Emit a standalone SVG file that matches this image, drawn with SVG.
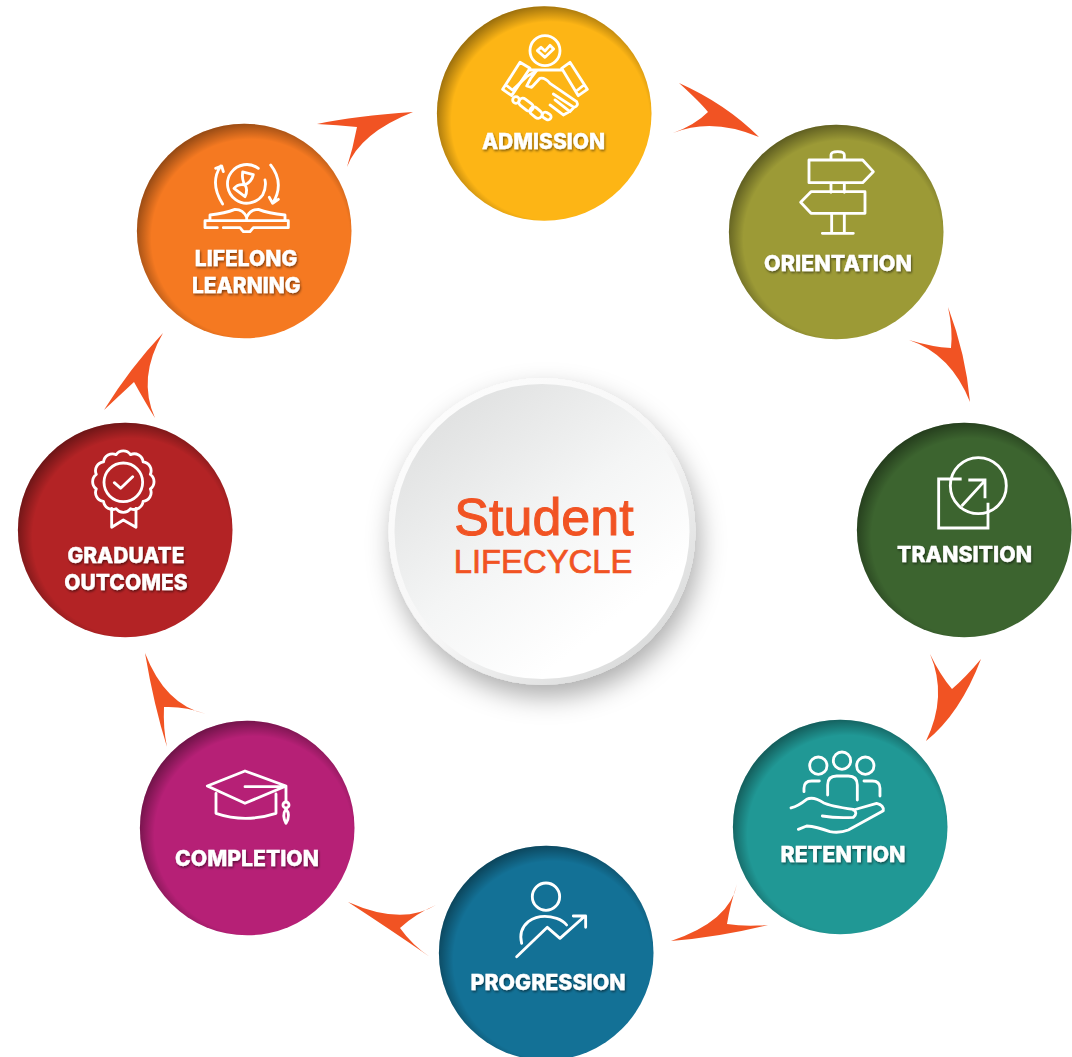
<svg xmlns="http://www.w3.org/2000/svg" width="1072" height="1057" viewBox="0 0 1072 1057">
<style>
.lb{font-family:Inter,"Liberation Sans",sans-serif;font-weight:800;font-size:21px;fill:#fff;stroke:#fff;stroke-width:0.3;text-anchor:middle;filter:url(#ts)}
.ic{fill:none;stroke:#fff;stroke-width:8.5;stroke-linecap:round;stroke-linejoin:round}
.sh{fill:url(#edge)}
.ar{fill:#f15323}
.ct{font-family:"Liberation Sans",Inter,sans-serif;fill:#f15323;text-anchor:middle;stroke:#f15323}
</style>
<defs>
<radialGradient id="edge" cx="0.53" cy="0.535" r="0.55">
<stop offset="0.84" stop-color="#000" stop-opacity="0"/>
<stop offset="1" stop-color="#000" stop-opacity="0.42"/>
</radialGradient>
<linearGradient id="cOut" x1="0.15" y1="0.1" x2="0.85" y2="0.9">
<stop offset="0" stop-color="#fcfcfc"/><stop offset="0.55" stop-color="#f6f6f6"/><stop offset="1" stop-color="#dadbdb"/>
</linearGradient>
<linearGradient id="cIn" x1="0.15" y1="0.1" x2="0.78" y2="0.9">
<stop offset="0" stop-color="#e0e1e1"/><stop offset="0.5" stop-color="#f4f5f5"/><stop offset="0.9" stop-color="#fff"/>
</linearGradient>
<filter id="ts" x="-10%" y="-30%" width="120%" height="170%"><feDropShadow dx="1" dy="1.6" stdDeviation="0.9" flood-color="#000" flood-opacity="0.5"/></filter>
<filter id="cs" x="-25%" y="-25%" width="150%" height="150%"><feDropShadow dx="4" dy="12" stdDeviation="13" flood-color="#000" flood-opacity="0.32"/></filter>
</defs>
<rect width="1072" height="1057" fill="#fff"/>
<g id="connectors">
<path class="ar" d="M679,83Q726,104 759,137Q712,117 673,133Q695,125 708,112Q700,102 679,83Z"/>
<path class="ar" d="M948,307Q966,355 970,402Q951,354 909,340Q932,347 951,348Q953,330 948,307Z"/>
<path class="ar" d="M981,659Q960,714 926,741Q948,696 930,654Q940,675 952,689Q965,678 981,659Z"/>
<path class="ar" d="M768,925Q720,937 671,941Q730,921 737,884Q730,905 727,924Q745,927 768,925Z"/>
<path class="ar" d="M348,902Q402,926 436,905Q415,914 400,928Q412,945 430,957Q391,930 348,902Z"/>
<path class="ar" d="M145,653Q165,705 206,714Q185,706 164,707Q163,728 167,747Q154,706 145,653Z"/>
<path class="ar" d="M163,333Q130,368 104,410Q120,395 134,382Q145,402 155,418Q137,378 163,333Z"/>
<path class="ar" d="M413,112Q355,116 317,124Q337,125 357,127Q353,148 347,167Q360,133 413,112Z"/>
</g>
<g id="center">
<circle cx="542" cy="531.500" r="153.500" fill="url(#cOut)" filter="url(#cs)"/>
<circle cx="542" cy="531.500" r="147.500" fill="url(#cIn)"/>
<text class="ct" x="544" y="534.500" font-size="52" stroke-width="1">Student</text>
<text class="ct" x="543" y="572.500" font-size="32.800" stroke-width="0.7">LIFECYCLE</text>
</g>
<g id="admission">
<circle cx="544.200" cy="113.500" r="107.300" fill="#fdb515"/><circle class="sh" cx="544.200" cy="113.500" r="107.300"/>
<g class="ic" transform="translate(430,0) scale(.3333)">
<circle cx="345" cy="152" r="45"/>
<path d="M322,152L333,142L345,153L360,136L371,147L345,172Z"/>
<path d="M270,187L218,268L245,287L300,205ZM232,258L247,270M420,187L472,268L445,287L395,205ZM458,258L443,270M300,210H395"/>
<path d="M320,212Q300,235 290,258L305,262L330,235Q345,232 360,250L440,305Q447,318 432,322L370,282M432,322L420,335L375,300M415,337L400,345L360,315M250,268L290,230L320,212"/>
<circle cx="258" cy="300" r="10"/>
<rect x="264" y="302" width="48" height="24" rx="12" transform="rotate(38 288 314)"/>
<rect x="298" y="326" width="40" height="24" rx="12" transform="rotate(40 318 338)"/>
<rect x="336" y="339" width="28" height="18" rx="9" transform="rotate(30 350 348)"/>
</g>
<text class="lb" x="543.500" y="148.800">ADMISSION</text>
</g>
<g id="orientation">
<circle cx="836.200" cy="232" r="107.300" fill="#9c9a36"/><circle class="sh" cx="836.200" cy="232" r="107.300"/>
<g class="ic" transform="translate(730,130) scale(.3333)">
<path d="M303,90V75Q303,65 323,65Q343,65 343,75V90M237,90H398L430,125L398,158H237ZM303,158V187M343,158V187M405,185H243L212,217L243,250H405ZM305,250V310M343,250V310M277,310H370"/>
</g>
<text class="lb" x="838" y="270.800" textLength="148" lengthAdjust="spacingAndGlyphs">ORIENTATION</text>
</g>
<g id="transition">
<circle cx="964.200" cy="530" r="107.300" fill="#3c642f"/><circle class="sh" cx="964.200" cy="530" r="107.300"/>
<g class="ic" transform="translate(860,430) scale(.3333)" style="stroke-linecap:butt;stroke-linejoin:miter">
<path d="M305,147H236V294H384V218"/>
<circle cx="355" cy="167" r="84"/>
<path d="M305,228L372,155M325,150H375V205"/>
</g>
<text class="lb" x="964.500" y="561.800" textLength="135" lengthAdjust="spacingAndGlyphs">TRANSITION</text>
</g>
<g id="retention">
<circle cx="840.200" cy="827" r="107.300" fill="#209895"/><circle class="sh" cx="840.200" cy="827" r="107.300"/>
<g class="ic" transform="translate(660,720) scale(.3333)">
<circle cx="475" cy="137" r="26"/><circle cx="546" cy="122" r="26"/><circle cx="616" cy="137" r="26"/>
<path d="M503,225V195Q503,168 530,168H565Q592,168 592,195V240M432,215V205Q432,183 455,183H478M660,228V205Q660,183 637,183H612"/>
<path d="M393,264Q415,258 440,238Q460,228 490,248Q510,258 580,268Q595,280 580,292Q530,295 487,288M580,270L650,250Q672,255 670,272L565,330Q540,340 510,335Q470,320 440,318L415,328"/>
</g>
<text class="lb" x="843" y="862" textLength="125" lengthAdjust="spacingAndGlyphs">RETENTION</text>
</g>
<g id="progression">
<circle cx="546.200" cy="953" r="107.300" fill="#137196"/><circle class="sh" cx="546.200" cy="953" r="107.300"/>
<g class="ic" transform="translate(340,850) scale(.3333)">
<circle cx="618" cy="140" r="41"/>
<path d="M545,280Q535,240 565,215Q600,190 650,205Q670,212 680,225M530,320L622,232L660,265L735,198M700,198H737V232"/>
</g>
<text class="lb" x="548" y="989.800" textLength="155" lengthAdjust="spacingAndGlyphs">PROGRESSION</text>
</g>
<g id="completion">
<circle cx="247.200" cy="828" r="107.300" fill="#b62076"/><circle class="sh" cx="247.200" cy="828" r="107.300"/>
<g class="ic" transform="translate(130,640) scale(.3333)">
<path d="M345,393L232,438L345,490L468,438ZM345,440H468V485M258,460V520Q345,550 438,520V462"/>
<circle cx="468" cy="495" r="9"/>
<path d="M468,507Q455,525 468,550Q483,525 468,507Z"/>
</g>
<text class="lb" x="247" y="865.800" textLength="144" lengthAdjust="spacingAndGlyphs">COMPLETION</text>
</g>
<g id="graduate-outcomes">
<circle cx="125.200" cy="530" r="107.300" fill="#b32325"/><circle class="sh" cx="125.200" cy="530" r="107.300"/>
<g class="ic" transform="translate(10,330) scale(.3333)">
<path transform="rotate(15 340 455)" d="M424,455A27,27 0 0 0 412.700,413A27,27 0 0 0 382,382.300A27,27 0 0 0 340,371A27,27 0 0 0 298,382.300A27,27 0 0 0 267.300,413A27,27 0 0 0 256,455A27,27 0 0 0 267.300,497A27,27 0 0 0 298,527.700A27,27 0 0 0 340,539A27,27 0 0 0 382,527.700A27,27 0 0 0 412.700,497A27,27 0 0 0 424,455Z"/>
<circle cx="340" cy="457" r="58"/>
<path d="M313,458L332,475L368,440M305,535V592L340,570L378,592V535"/>
</g>
<text class="lb" x="126" y="562.500">GRADUATE</text>
<text class="lb" x="126" y="589.500">OUTCOMES</text>
</g>
<g id="lifelong-learning">
<circle cx="244.200" cy="231" r="107.300" fill="#f57921"/><circle class="sh" cx="244.200" cy="231" r="107.300"/>
<g class="ic" transform="translate(130,100) scale(.3333)">
<path d="M385,205A58,58 0 1 0 398,285M405,240Q410,260 398,285M278,312Q238,250 272,198M257,205L275,198L280,215M422,195Q465,250 428,310M418,292L428,310L445,298"/>
<path d="M338,216L370,224Q365,245 345,255Q335,240 338,216ZM345,255Q325,250 312,265L345,290Q355,270 345,255Z"/>
<path d="M240,360V345Q285,340 315,328Q340,328 350,352Q360,328 385,328Q415,340 465,345V360M350,352V362M262,383H225V362H475V383H370L360,395H340L330,383H280"/>
</g>
<text class="lb" x="246" y="266">LIFELONG</text>
<text class="lb" x="246.300" y="292.800">LEARNING</text>
</g>
</svg>
